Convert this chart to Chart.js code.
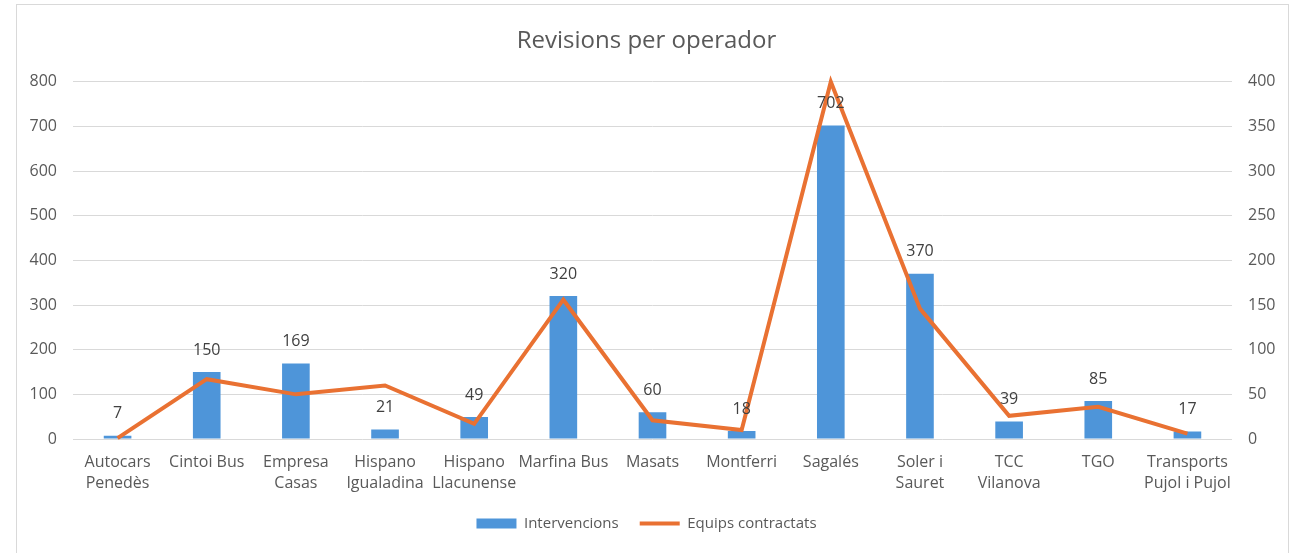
<!DOCTYPE html>
<html>
<head>
<meta charset="utf-8">
<script src="https://cdn.jsdelivr.net/npm/chart.js@4"></script>
<style>
  html, body { margin: 0; padding: 0; background: #fff; }
  #wrap { position: relative; width: 1293px; height: 553px; overflow: hidden; }
  #frame { position: absolute; left: 16px; top: 4px; width: 1271px; height: 600px; border: 1px solid #d9d9d9; }
  #chart { position: absolute; left: 0; top: 0; }
</style>
</head>
<body>
<div id="wrap">
  <div id="frame"></div>
  <canvas id="chart" width="1293" height="553"></canvas>
</div>
<script>
// Chart data
const operators = [
    ['Autocars', 'Penedès'], 'Cintoi Bus', ['Empresa', 'Casas'], ['Hispano', 'Igualadina'],
    ['Hispano', 'Llacunense'], 'Marfina Bus', 'Masats', 'Montferri', 'Sagalés',
    ['Soler i', 'Sauret'], ['TCC', 'Vilanova'], 'TGO', ['Transports', 'Pujol i Pujol']
];
const intervencions = [7, 150, 169, 21, 49, 320, 60, 18, 702, 370, 39, 85, 17];
const equipsContractats = [1, 67, 50, 60, 17, 156, 21, 10, 400, 146, 26, 36, 6];

const GRAY = '#595959';
const FONT = "'Open Sans', sans-serif";

// Draws the value above each bar
const barLabels = {
    id: 'barLabels',
    afterDatasetsDraw(chart) {
        const ctx = chart.ctx;
        const meta = chart.getDatasetMeta(0);
        ctx.save();
        ctx.font = '16px ' + FONT;
        ctx.fillStyle = '#404040';
        ctx.textAlign = 'center';
        ctx.textBaseline = 'middle';
        meta.data.forEach((bar, i) => {
            ctx.fillText(intervencions[i], bar.x, bar.y - 22);
        });
        ctx.restore();
    }
};

new Chart(document.getElementById('chart'), {
    type: 'bar',
    data: {
        labels: operators,
        datasets: [
            {
                type: 'bar',
                label: 'Intervencions',
                data: intervencions,
                backgroundColor: '#4e95d9',
                categoryPercentage: 1,
                barPercentage: 0.31,
                yAxisID: 'y',
                pointStyle: 'rect',
                order: 2
            },
            {
                type: 'line',
                label: 'Equips contractats',
                data: equipsContractats,
                borderColor: '#e97132',
                backgroundColor: '#e97132',
                borderWidth: 4,
                pointRadius: 0,
                pointStyle: 'line',
                tension: 0,
                clip: false,
                yAxisID: 'y1',
                order: 1
            }
        ]
    },
    plugins: [barLabels],
    options: {
        responsive: false,
        animation: false,
        layout: { padding: { left: 0, right: 0, top: 0, bottom: 12 } },
        plugins: {
            title: {
                display: true,
                text: 'Revisions per operador',
                color: GRAY,
                font: { family: FONT, size: 24, weight: 'normal', lineHeight: 1.2 },
                padding: { top: 27, bottom: 26 }
            },
            legend: {
                position: 'bottom',
                labels: {
                    usePointStyle: true,
                    pointStyleWidth: 40,
                    boxHeight: 10,
                    padding: 21,
                    color: GRAY,
                    font: { family: FONT, size: 15 },
                    sort: (a, b) => a.datasetIndex - b.datasetIndex
                }
            },
            tooltip: { enabled: false }
        },
        scales: {
            x: {
                grid: { display: false, drawTicks: false },
                border: { display: false },
                afterFit(scale) { scale.height = 56; },
                ticks: {
                    color: GRAY,
                    font: { family: FONT, size: 16, lineHeight: 1.3 },
                    padding: 13,
                    maxRotation: 0,
                    autoSkip: false
                }
            },
            y: {
                position: 'left',
                min: 0,
                max: 800,
                afterFit(scale) { scale.width = 73; },
                grid: { color: '#d9d9d9', drawTicks: false },
                border: { display: false },
                ticks: {
                    stepSize: 100,
                    color: GRAY,
                    padding: 16,
                    font: { family: FONT, size: 16 }
                }
            },
            y1: {
                position: 'right',
                min: 0,
                max: 400,
                afterFit(scale) { scale.width = 61; },
                grid: { display: false, drawTicks: false },
                border: { display: false },
                ticks: {
                    stepSize: 50,
                    color: GRAY,
                    padding: 16,
                    font: { family: FONT, size: 16 }
                }
            }
        }
    }
});
</script>
</body>
</html>
